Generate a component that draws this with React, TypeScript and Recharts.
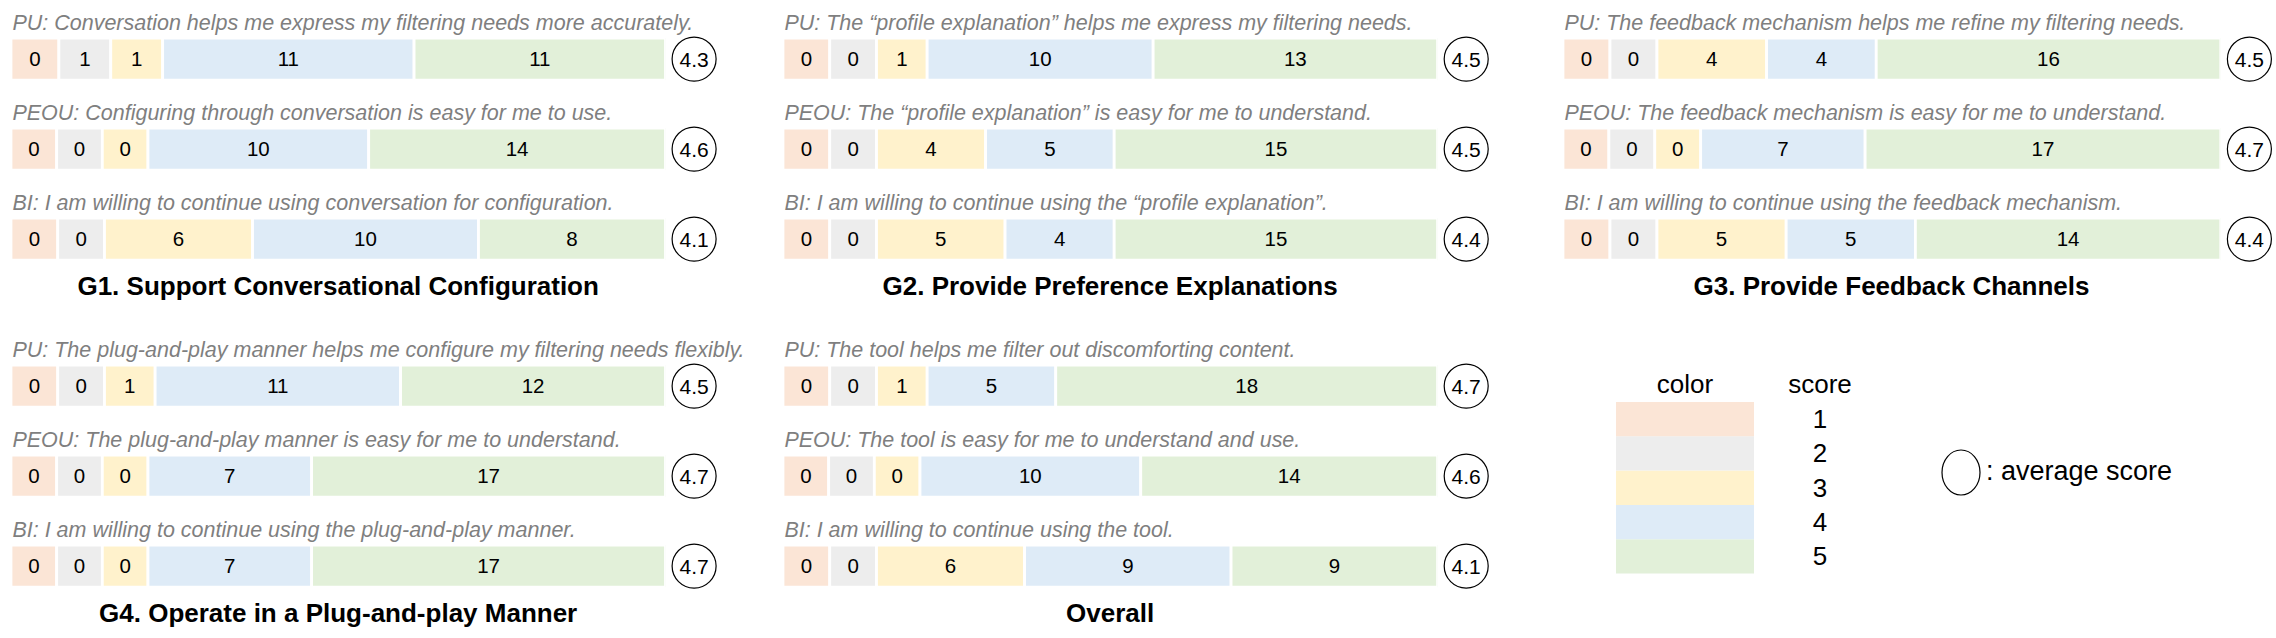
import React from 'react';
import { BarChart, Bar, XAxis, YAxis, LabelList } from 'recharts';

const FONT = "'Liberation Sans', Arial, sans-serif";
const scoreColours = ['#FBE5D6', '#EDEDED', '#FFF2CC', '#DEEBF7', '#E2F0D9'];
const scoreLabels = ['1', '2', '3', '4', '5'];

const panelTitles = [
  'G1. Support Conversational Configuration',
  'G2. Provide Preference Explanations',
  'G3. Provide Feedback Channels',
  'G4. Operate in a Plug-and-play Manner',
  'Overall',
];

const g1Counts = [[0, 1, 1, 11, 11], [0, 0, 0, 10, 14], [0, 0, 6, 10, 8]];
const g1Averages = [4.3, 4.6, 4.1];
const g1Statements = [
  'PU: Conversation helps me express my filtering needs more accurately.',
  'PEOU: Configuring through conversation is easy for me to use.',
  'BI: I am willing to continue using conversation for configuration.',
];

const g2Counts = [[0, 0, 1, 10, 13], [0, 0, 4, 5, 15], [0, 0, 5, 4, 15]];
const g2Averages = [4.5, 4.5, 4.4];
const g2Statements = [
  'PU: The \u201cprofile explanation\u201d helps me express my filtering needs.',
  'PEOU: The \u201cprofile explanation\u201d is easy for me to understand.',
  'BI: I am willing to continue using the \u201cprofile explanation\u201d.',
];

const g3Counts = [[0, 0, 4, 4, 16], [0, 0, 0, 7, 17], [0, 0, 5, 5, 14]];
const g3Averages = [4.5, 4.7, 4.4];
const g3Statements = [
  'PU: The feedback mechanism helps me refine my filtering needs.',
  'PEOU: The feedback mechanism is easy for me to understand.',
  'BI: I am willing to continue using the feedback mechanism.',
];

const g4Counts = [[0, 0, 1, 11, 12], [0, 0, 0, 7, 17], [0, 0, 0, 7, 17]];
const g4Averages = [4.5, 4.7, 4.7];
const g4Statements = [
  'PU: The plug-and-play manner helps me configure my filtering needs flexibly.',
  'PEOU: The plug-and-play manner is easy for me to understand.',
  'BI: I am willing to continue using the plug-and-play manner.',
];

const overallCounts = [[0, 0, 1, 5, 18], [0, 0, 0, 10, 14], [0, 0, 6, 9, 9]];
const overallAverages = [4.7, 4.6, 4.1];
const overallStatements = [
  'PU: The tool helps me filter out discomforting content.',
  'PEOU: The tool is easy for me to understand and use.',
  'BI: I am willing to continue using the tool.',
];

// segment length: zero answers keep a small cell, the rest grow with the count
const ZERO_CELL = 2.4;
const CELL_PAD = 1.6;
const GAP = 2.8;
const BAR_H = 39.4;
const ROW_PITCH = 90;
const TOP_PAD = 26;

const toRows = (counts: number[][], averages: number[], statements: string[]) =>
  counts.map((c, i) => {
    const raw = c.map((v) => (v === 0 ? ZERO_CELL : v + CELL_PAD));
    const total = raw.reduce((a, b) => a + b, 0);
    const row: any = { key: `r${i}`, statement: statements[i], avg: averages[i] };
    c.forEach((v, j) => {
      row[`v${j}`] = v;
      row[`w${j}`] = (raw[j] / total) * 100;
    });
    return row;
  });

const panels = [
  { rows: toRows(g1Counts, g1Averages, g1Statements), x0: 12.3, x1: 664, cy: 59 },
  { rows: toRows(g2Counts, g2Averages, g2Statements), x0: 784.2, x1: 1436, cy: 59 },
  { rows: toRows(g3Counts, g3Averages, g3Statements), x0: 1564, x1: 2219, cy: 59 },
  { rows: toRows(g4Counts, g4Averages, g4Statements), x0: 12.3, x1: 664, cy: 386.2 },
  { rows: toRows(overallCounts, overallAverages, overallStatements), x0: 784.2, x1: 1436, cy: 386.2 },
];

const box = (p: any) => {
  const vb = p.viewBox || {};
  return {
    x: Number(p.x ?? vb.x),
    y: Number(p.y ?? vb.y),
    width: Number(p.width ?? vb.width),
    height: Number(p.height ?? vb.height),
  };
};

const CountLabel = (p: any) => {
  const b = box(p);
  return (
    <text x={b.x + b.width / 2} y={b.y + b.height / 2 + 7.3} textAnchor="middle" fontSize={20.5} fill="#000" fontFamily={FONT}>
      {p.value}
    </text>
  );
};

const StatementLabel = (p: any) => {
  const b = box(p);
  return (
    <text x={b.x + GAP / 2} y={b.y + GAP / 2 - 9} fontSize={21.5} fontStyle="italic" fill="#7f7f7f" fontFamily={FONT}>
      {p.value}
    </text>
  );
};

const AverageLabel = (p: any) => {
  const b = box(p);
  const cx = b.x + b.width - GAP / 2 + 30;
  const cy = b.y + b.height / 2;
  return (
    <g>
      <circle cx={cx} cy={cy} r={22} fill="none" stroke="#000" strokeWidth={1.2} />
      <text x={cx} y={cy + 7.5} textAnchor="middle" fontSize={21} fill="#000" fontFamily={FONT}>
        {Number(p.value).toFixed(1)}
      </text>
    </g>
  );
};

const Panel: React.FC<{ rows: any[]; x0: number; x1: number; cy: number }> = ({ rows, x0, x1, cy }) => {
  const plotW = x1 - x0 + GAP;
  const right = 110;
  return (
    <div style={{ position: 'absolute', left: x0 - GAP / 2, top: cy - ROW_PITCH / 2 - TOP_PAD }}>
      <BarChart
        layout="vertical"
        width={plotW + right}
        height={ROW_PITCH * 3 + TOP_PAD}
        data={rows}
        margin={{ top: TOP_PAD, right, bottom: 0, left: 0 }}
        barSize={BAR_H + GAP}
        barCategoryGap={0}
      >
        <XAxis type="number" domain={[0, 100]} allowDataOverflow hide height={0} />
        <YAxis type="category" dataKey="key" hide width={0} />
        {scoreColours.map((c, j) => (
          <Bar key={j} dataKey={`w${j}`} stackId="s" fill={c} stroke="#fff" strokeWidth={GAP} isAnimationActive={false}>
            <LabelList dataKey={`v${j}`} content={CountLabel} />
            {j === 0 && <LabelList dataKey="statement" content={StatementLabel} />}
            {j === 4 && <LabelList dataKey="avg" content={AverageLabel} />}
          </Bar>
        ))}
      </BarChart>
    </div>
  );
};

const legendData = [
  Object.fromEntries([
    ['name', 'legend'],
    ...scoreLabels.map((_, j) => [`l${j}`, 1]),
    ...scoreLabels.map((s, j) => [`t${j}`, s]),
  ]),
];

const LEGEND_X = 1616;
const LEGEND_W = 138;
const SCORE_X = 1820;

const LegendDigit = (p: any) => {
  const b = box(p);
  return (
    <text x={b.x + b.width + (SCORE_X - LEGEND_X - LEGEND_W)} y={b.y + b.height / 2 + 9} textAnchor="middle" fontSize={26} fill="#000" fontFamily={FONT}>
      {p.value}
    </text>
  );
};

const App: React.FC = () => (
  <div style={{ position: 'absolute', left: 0, top: 0, width: 2276, height: 638, background: '#fff', overflow: 'hidden' }}>
    {panels.map((p, i) => (
      <Panel key={i} {...p} />
    ))}
    <div style={{ position: 'absolute', left: LEGEND_X, top: 402 }}>
      <BarChart width={LEGEND_W + 100} height={171.5} data={legendData} margin={{ top: 0, right: 100, bottom: 0, left: 0 }} barCategoryGap={0}>
        <XAxis dataKey="name" hide height={0} />
        <YAxis type="number" domain={[0, 5]} hide width={0} />
        {[4, 3, 2, 1, 0].map((j) => (
          <Bar key={j} dataKey={`l${j}`} stackId="legend" fill={scoreColours[j]} isAnimationActive={false}>
            <LabelList dataKey={`t${j}`} content={LegendDigit} />
          </Bar>
        ))}
      </BarChart>
    </div>
    <svg width={2276} height={638} style={{ position: 'absolute', left: 0, top: 0, pointerEvents: 'none' }}>
      {panels.map((p, i) => (
        <text
          key={i}
          x={(p.x0 + p.x1) / 2}
          y={p.cy + ROW_PITCH * 2 + BAR_H / 2 + 36.5}
          textAnchor="middle"
          fontSize={26}
          fontWeight="bold"
          fill="#000"
          fontFamily={FONT}
        >
          {panelTitles[i]}
        </text>
      ))}
      <text x={1685} y={393} textAnchor="middle" fontSize={26} fill="#000" fontFamily={FONT}>color</text>
      <text x={SCORE_X} y={393} textAnchor="middle" fontSize={26} fill="#000" fontFamily={FONT}>score</text>
      <ellipse cx={1961} cy={472.5} rx={19} ry={22.5} fill="none" stroke="#000" strokeWidth={1.2} />
      <text x={1986} y={480} fontSize={27} fill="#000" fontFamily={FONT}>: average score</text>
    </svg>
  </div>
);

export default App;
